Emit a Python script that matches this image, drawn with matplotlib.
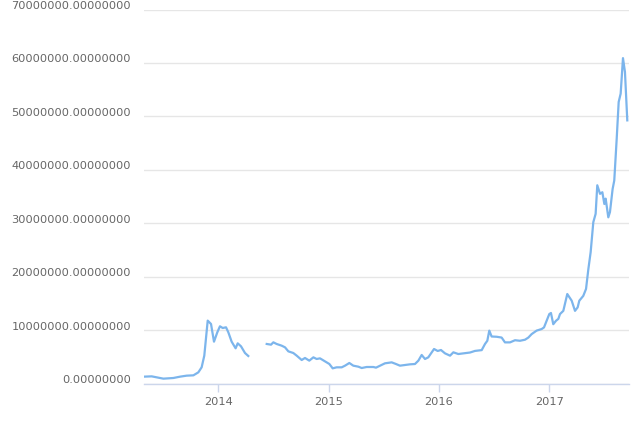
import numpy as np
import matplotlib
matplotlib.use("Agg")
import matplotlib.pyplot as plt
from matplotlib.transforms import ScaledTranslation

# Price series (decimal year, value in millions); NaN marks the gap in mid-2014
years = [
    2013.320, 2013.396, 2013.441, 2013.502, 2013.592, 2013.653, 2013.713, 2013.774,
    2013.819, 2013.849, 2013.873, 2013.904, 2013.934, 2013.961, 2013.991, 2014.015,
    2014.040, 2014.070, 2014.091, 2014.121, 2014.157, 2014.176, 2014.206, 2014.242,
    2014.272,
    2014.350,
    2014.439, 2014.478, 2014.499, 2014.529, 2014.575, 2014.605, 2014.635, 2014.680,
    2014.711, 2014.756, 2014.786, 2014.825, 2014.862, 2014.892, 2014.922, 2014.967,
    2015.007, 2015.037, 2015.073, 2015.119, 2015.149, 2015.188, 2015.224, 2015.270,
    2015.300, 2015.345, 2015.406, 2015.430, 2015.466, 2015.511, 2015.572, 2015.611,
    2015.647, 2015.693, 2015.738, 2015.783, 2015.814, 2015.844, 2015.874, 2015.904,
    2015.925, 2015.956, 2015.989, 2016.019, 2016.055, 2016.101, 2016.131, 2016.176,
    2016.222, 2016.282, 2016.327, 2016.388, 2016.418, 2016.439, 2016.457, 2016.478,
    2016.524, 2016.569, 2016.599, 2016.645, 2016.690, 2016.735, 2016.781, 2016.811,
    2016.841, 2016.886, 2016.932, 2016.953, 2016.977, 2017.001, 2017.016, 2017.037,
    2017.062, 2017.083, 2017.098, 2017.128, 2017.164, 2017.204, 2017.234, 2017.258,
    2017.273, 2017.309, 2017.334, 2017.355, 2017.376, 2017.400, 2017.421, 2017.436,
    2017.461, 2017.482, 2017.500, 2017.512, 2017.536, 2017.551, 2017.575, 2017.590,
    2017.612, 2017.630, 2017.648, 2017.669, 2017.687, 2017.708,
]
price_millions = [
    1.28, 1.34, 1.16, 0.91, 1.03, 1.28, 1.47, 1.53,
    2.09, 3.03, 5.21, 11.77, 11.14, 7.83, 9.58, 10.71,
    10.39, 10.52, 9.58, 7.83, 6.59, 7.52, 6.96, 5.71,
    5.15,
    np.nan,
    7.40, 7.27, 7.71, 7.40, 7.08, 6.77, 6.02, 5.71,
    5.21, 4.40, 4.78, 4.28, 4.90, 4.59, 4.71, 4.15,
    3.65, 2.84, 3.03, 3.03, 3.34, 3.84, 3.34, 3.15,
    2.90, 3.09, 3.09, 2.97, 3.34, 3.78, 3.96, 3.65,
    3.34, 3.46, 3.59, 3.65, 4.28, 5.34, 4.59, 4.90,
    5.52, 6.46, 6.09, 6.27, 5.65, 5.21, 5.84, 5.52,
    5.65, 5.80, 6.10, 6.25, 7.40, 8.00, 9.90, 8.80,
    8.75, 8.60, 7.70, 7.70, 8.10, 8.00, 8.20, 8.60,
    9.25, 9.90, 10.20, 10.50, 11.75, 13.00, 13.20, 11.10,
    11.75, 12.10, 13.00, 13.60, 16.75, 15.50, 13.60, 14.25,
    15.50, 16.40, 17.70, 21.40, 24.60, 30.20, 31.75, 37.10,
    35.50, 35.80, 33.60, 34.60, 31.10, 32.10, 36.40, 38.00,
    45.80, 52.70, 54.25, 60.90, 58.30, 49.25,
]
year_ticks = [2014, 2015, 2016, 2017]
value_ticks = [0, 10e6, 20e6, 30e6, 40e6, 50e6, 60e6, 70e6]

LINE_COLOR = "#7cb5ec"
GRID_COLOR = "#e6e6e6"
AXIS_COLOR = "#ccd6eb"
TEXT_COLOR = "#666666"

fig = plt.figure(figsize=(6.4, 4.27), dpi=100)
ax = fig.add_axes([0.225, 0.0995, 0.7578, 0.8759])

values = np.array(price_millions) * 1e6
ax.plot(years, values, color=LINE_COLOR, linewidth=1.6, solid_joinstyle="round")

ax.set_xlim(2013.3264, 2017.7235)
ax.set_ylim(0, 70e6)

# Horizontal grid
ax.set_yticks(value_ticks)
ax.yaxis.grid(True, color=GRID_COLOR, linewidth=1)
ax.set_axisbelow(True)
ax.tick_params(axis="y", length=0, labelleft=False)

for spine in ["top", "right", "left"]:
    ax.spines[spine].set_visible(False)
ax.spines["bottom"].set_color(AXIS_COLOR)
ax.spines["bottom"].set_linewidth(1)

# Y labels sit slightly above their grid lines, right aligned (offsets in px / dpi)
offset = ScaledTranslation(-13 / 100, 1.5 / 100, fig.dpi_scale_trans)
for v in value_ticks:
    ax.text(0, v, f"{v:.8f}", transform=ax.get_yaxis_transform() + offset,
            ha="right", va="baseline", fontsize=8.2, color=TEXT_COLOR)

# X ticks
ax.set_xticks(year_ticks)
ax.set_xticklabels([str(y) for y in year_ticks])
ax.tick_params(axis="x", direction="out", length=6, width=1, color=AXIS_COLOR,
               pad=3, labelsize=8.2, labelcolor=TEXT_COLOR)

fig.savefig("out.png", dpi=100)
